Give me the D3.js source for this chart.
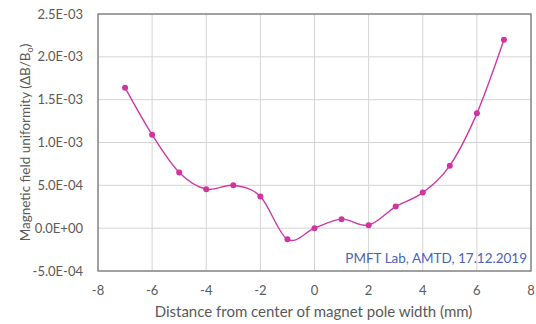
<!DOCTYPE html>
<html>
<head>
<meta charset="utf-8">
<script src="https://cdn.jsdelivr.net/npm/d3@7"></script>
<style>
  body { margin: 0; background: #fff; }
  svg { display: block; font-family: Lato, "Open Sans", sans-serif; }
</style>
</head>
<body>
<div id="chart"></div>
<script>
// distance from pole centre (mm) and field uniformity dB/B0
const distances = [-7, -6, -5, -4, -3, -2, -1, 0, 1, 2, 3, 4, 5, 6, 7];
const uniformity = [1.64e-3, 1.09e-3, 6.5e-4, 4.55e-4, 5.0e-4, 3.7e-4, -1.3e-4, 0, 1.05e-4, 3.5e-5, 2.52e-4, 4.15e-4, 7.3e-4, 1.34e-3, 2.2e-3];
const xTicks = [-8, -6, -4, -2, 0, 2, 4, 6, 8];
const yTicks = [-5e-4, 0, 5e-4, 1e-3, 1.5e-3, 2e-3, 2.5e-3];
const yTickLabels = ["-5.0E-04", "0.0E+00", "5.0E-04", "1.0E-03", "1.5E-03", "2.0E-03", "2.5E-03"];

const width = 536, height = 324;
const margin = { top: 14, right: 5, bottom: 53, left: 98 };
const w = width - margin.left - margin.right;
const h = height - margin.top - margin.bottom;

const svg = d3.select("#chart").append("svg")
    .attr("width", width)
    .attr("height", height);

const g = svg.append("g").attr("transform", `translate(${margin.left},${margin.top})`);

const x = d3.scaleLinear().domain([-8, 8]).range([0, w]);
const y = d3.scaleLinear().domain([-5e-4, 2.5e-3]).range([h, 0]);

// gridlines
g.selectAll(".vgrid").data(xTicks).enter().append("line")
    .attr("x1", d => x(d)).attr("x2", d => x(d))
    .attr("y1", 0).attr("y2", h)
    .attr("stroke", "#d4d4d4").attr("stroke-width", 1);
g.selectAll(".hgrid").data(yTicks).enter().append("line")
    .attr("x1", 0).attr("x2", w)
    .attr("y1", d => y(d)).attr("y2", d => y(d))
    .attr("stroke", "#d4d4d4").attr("stroke-width", 1);

// plot frame
g.append("rect")
    .attr("width", w).attr("height", h)
    .attr("fill", "none").attr("stroke", "#7a7a7a").attr("stroke-width", 1.3);

// tick labels
g.selectAll(".xlab").data(xTicks).enter().append("text")
    .attr("x", d => x(d)).attr("y", h + 24)
    .attr("text-anchor", "middle")
    .attr("font-size", 13).attr("fill", "#595959")
    .text(d => d);
g.selectAll(".ylab").data(yTicks).enter().append("text")
    .attr("x", -15).attr("y", d => y(d)).attr("dy", "0.35em")
    .attr("text-anchor", "end")
    .attr("font-size", 13).attr("fill", "#595959")
    .text((d, i) => yTickLabels[i]);

// axis titles
svg.append("text")
    .attr("x", margin.left + w / 2 - 1).attr("y", 317)
    .attr("text-anchor", "middle")
    .attr("font-size", 15).attr("fill", "#595959")
    .text("Distance from center of magnet pole width (mm)");

const yt = svg.append("text")
    .attr("transform", `translate(30,${margin.top + h / 2}) rotate(-90)`)
    .attr("text-anchor", "middle")
    .attr("font-size", 13.5).attr("fill", "#595959");
yt.append("tspan").text("Magnetic field uniformity (ΔB/B");
yt.append("tspan").attr("font-size", 9).attr("dy", 3).text("o");
yt.append("tspan").attr("dy", -3).text(")");

// smoothed series line
const points = distances.map((d, i) => [d, uniformity[i]]);
const line = d3.line()
    .x(d => x(d[0]))
    .y(d => y(d[1]))
    .curve(d3.curveCardinal.tension(0));

g.append("path")
    .datum(points)
    .attr("d", line)
    .attr("fill", "none")
    .attr("stroke", "#cc3aa6")
    .attr("stroke-width", 1.4);

g.selectAll("circle").data(points).enter().append("circle")
    .attr("cx", d => x(d[0]))
    .attr("cy", d => y(d[1]))
    .attr("r", 3)
    .attr("fill", "#d0349f");

// annotation
g.append("text")
    .attr("x", w - 4).attr("y", h - 8)
    .attr("text-anchor", "end")
    .attr("font-size", 13.5).attr("fill", "#4a63b8")
    .text("PMFT Lab, AMTD, 17.12.2019");
</script>
</body>
</html>
